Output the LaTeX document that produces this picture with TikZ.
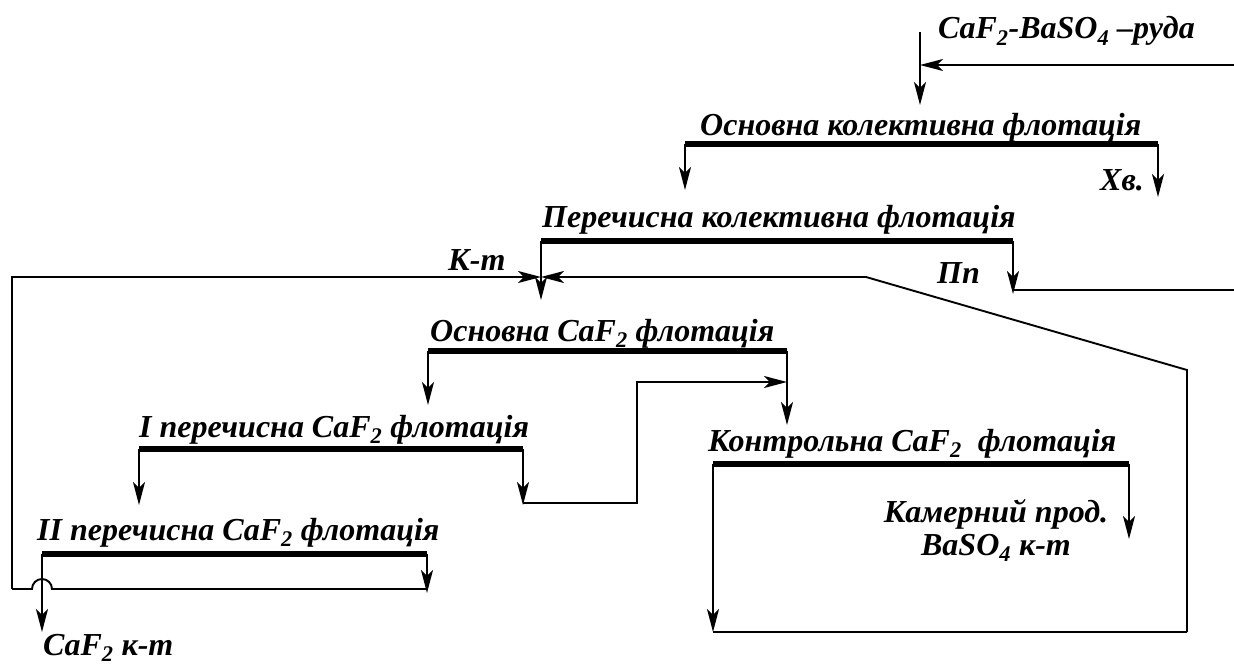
\documentclass[tikz,border=0pt]{standalone}
\usepackage{fontspec}
\setmainfont{Liberation Serif}
\usetikzlibrary{arrows.meta}
\newcommand\lowi[1]{\textsubscript{#1}}
\begin{document}
\begin{tikzpicture}[x=1pt,y=-1pt,
  ln/.style={line width=1.9pt},
  arr/.style={ln,-{Stealth[length=23pt,width=12pt,inset=6pt]}},
  bar/.style={line width=5.5pt},
  lbl/.style={font=\fontsize{32}{34}\selectfont\bfseries\itshape, inner sep=0pt, anchor=base west},
]
\useasboundingbox (0,0) rectangle (1234,669);
% ---------- coordinates ----------
\coordinate (fin) at (1234,65);
\coordinate (ftop) at (920,32);
\coordinate (fj) at (920,65);
\coordinate (fout) at (920,105);
\coordinate (b1L) at (685,144);  \coordinate (b1R) at (1158,144);
\coordinate (b1Ld) at (685,190); \coordinate (b1Rd) at (1158,197);
\coordinate (b2L) at (541,241);  \coordinate (b2R) at (1013,241);
\coordinate (b2Ld) at (541,300); \coordinate (b2Rd) at (1013,294);
\coordinate (ppj) at (1013,290); \coordinate (ppout) at (1234,290);
\coordinate (J) at (541,277);
\coordinate (rl1) at (12,589); \coordinate (rl2) at (12,277);
\coordinate (rr1) at (1187,632); \coordinate (rr2) at (1187,370); \coordinate (rr3) at (866,277);
\coordinate (b3L) at (428,351);  \coordinate (b3R) at (787,351);
\coordinate (b3Ld) at (428,405); \coordinate (b3Rd) at (787,425);
\coordinate (m1) at (523,503); \coordinate (m2) at (637,503); \coordinate (m3) at (637,382); \coordinate (m4) at (787,382);
\coordinate (b4L) at (139,449);  \coordinate (b4R) at (523,449);
\coordinate (b4Ld) at (139,505); \coordinate (b4Rd) at (523,505);
\coordinate (cL) at (713,464);  \coordinate (cR) at (1129,464);
\coordinate (cLd) at (713,632); \coordinate (cRd) at (1129,539);
\coordinate (b5L) at (42,554);  \coordinate (b5R) at (427,554);
\coordinate (b5Ld) at (42,632); \coordinate (b5Rd) at (427,593);
\coordinate (h0) at (427,589); \coordinate (h1) at (52,589);
% ---------- bars ----------
\draw[bar] (b1L) -- (b1R);
\draw[bar] (b2L) -- (b2R);
\draw[bar] (b3L) -- (b3R);
\draw[bar] (b4L) -- (b4R);
\draw[bar] (cL) -- (cR);
\draw[bar] (b5L) -- (b5R);
% ---------- connectors ----------
\draw[arr] (fin) -- (fj);
\draw[arr] (ftop) -- (fout);
\draw[arr] (b1L) -- (b1Ld);
\draw[arr] (b1R) -- (b1Rd);
\draw[arr] (b2L) -- (b2Ld);
\draw[arr] (b2R) -- (b2Rd);
\draw[ln] (ppj) -- (ppout);
\draw[arr] (rl1) -- (rl2) -- (J);
\draw[arr] (rr1) -- (rr2) -- (rr3) -- (J);
\draw[ln] (cLd) -- (rr1);
\draw[arr] (b3L) -- (b3Ld);
\draw[arr] (b3R) -- (b3Rd);
\draw[arr] (m1) -- (m2) -- (m3) -- (m4);
\draw[arr] (b4L) -- (b4Ld);
\draw[arr] (b4R) -- (b4Rd);
\draw[arr] (cL) -- (cLd);
\draw[arr] (cR) -- (cRd);
\draw[arr] (b5L) -- (b5Ld);
\draw[arr] (b5R) -- (b5Rd);
\draw[ln] (h0) -- (h1) arc[start angle=0, end angle=-180, radius=10] -- (rl1);
% ---------- labels ----------
\node[lbl] (tfeed) at (938,39) {CaF\lowi{2}-BaSO\lowi{4} –руда};
\node[lbl] (t1) at (700,135) {Основна колективна флотація};
\node[lbl] (t2) at (542,227) {Перечисна колективна флотація};
\node[lbl] (t3) at (430,341) {Основна CaF\lowi{2} флотація};
\node[lbl] (t4) at (139,437) {I перечисна CaF\lowi{2} флотація};
\node[lbl] (t5) at (37,540) {II перечисна CaF\lowi{2} флотація};
\node[lbl] (tc) at (708,451) {Контрольна CaF\lowi{2}\ \ флотація};
\node[lbl] (thv) at (1100,190) {Хв.};
\node[lbl] (tpp) at (937,283) {Пп};
\node[lbl] (tkt) at (448,270) {К-т};
\node[lbl,anchor=base] (tkam) at (996,522) {Камерний прод.};
\node[lbl,anchor=base] (tbas) at (996,555) {BaSO\lowi{4} к-т};
\node[lbl] (tcaf) at (43,655) {CaF\lowi{2} к-т};
\end{tikzpicture}
\end{document}
